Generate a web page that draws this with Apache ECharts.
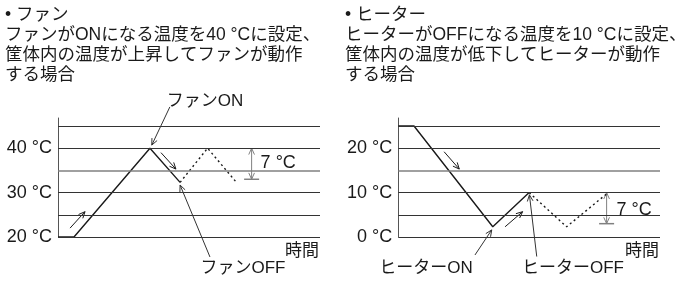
<!DOCTYPE html>
<html>
<head>
<meta charset="utf-8">
<script src="https://cdn.jsdelivr.net/npm/echarts@6/dist/echarts.min.js"></script>
<style>
html, body { margin: 0; padding: 0; background: #fff; }
#chart { width: 678px; height: 282px; }
</style>
</head>
<body>
<div id="chart"></div>
<script>
// ファン（左）: 時間(0-100) と 温度
const fanSolid = [[0, 20], [6.1, 20], [35.1, 40], [46.6, 32.3]]
const fanDotted = [[46.6, 32.3], [57.1, 40], [68.1, 32.3]]
const fanLines = [20, 25, 30, 35, 40, 45]
const fanLabels = [20, 30, 40]
const fanMid = 35
// ヒーター（右）
const heaterSolid = [[0, 25], [6, 25], [36.1, 2.3], [50, 10]]
const heaterDotted = [[50, 10], [64.3, 2.3], [80.2, 10]]
const heaterLines = [0, 5, 10, 15, 20, 25]
const heaterLabels = [0, 10, 20]
const heaterMid = 15
// ヒステリシス幅
const band = 7

const FONT = "'Liberation Sans', 'Noto Sans CJK JP', sans-serif"
const INK = '#1a1a1a'
const GRAY = '#808080'

const chart = echarts.init(document.getElementById('chart'), null, { renderer: 'canvas' })

function yAxisOf(g, min, labels) {
  return {
    type: 'value', gridIndex: g, min: min, max: min + 26.8, interval: 5,
    splitLine: { show: false },
    axisTick: { show: false },
    axisLine: { show: true, lineStyle: { color: '#555', width: 1 } },
    axisLabel: {
      margin: 6, fontSize: 18, color: INK, fontFamily: FONT,
      formatter: v => labels.indexOf(v) >= 0 ? v + ' °C' : ''
    }
  }
}

function gridLines(values, mid) {
  return values.map(v => ({
    yAxis: v,
    lineStyle: v === mid
      ? { color: GRAY, width: 1.6, type: 'solid' }
      : { color: '#333', width: 1, type: 'solid' }
  }))
}

function seriesOf(g, solid, dotted, lines, mid) {
  return [
    {
      type: 'line', xAxisIndex: g, yAxisIndex: g, data: solid,
      symbol: 'none', lineStyle: { color: INK, width: 1.4 }, z: 3,
      markLine: {
        silent: true, symbol: ['none', 'none'], label: { show: false },
        animation: false, data: gridLines(lines, mid)
      }
    },
    {
      type: 'line', xAxisIndex: g, yAxisIndex: g, data: dotted,
      symbol: 'none', lineStyle: { color: INK, width: 1.4, type: [2, 3] }, z: 3
    }
  ]
}

chart.setOption({
  animation: false,
  grid: [
    { left: 58, top: 118, width: 262, height: 119 },
    { left: 398.3, top: 118, width: 261.7, height: 119 }
  ],
  xAxis: [
    { type: 'value', gridIndex: 0, min: 0, max: 100, show: false },
    { type: 'value', gridIndex: 1, min: 0, max: 100, show: false }
  ],
  yAxis: [yAxisOf(0, 20, fanLabels), yAxisOf(1, 0, heaterLabels)],
  series: [
    ...seriesOf(0, fanSolid, fanDotted, fanLines, fanMid),
    ...seriesOf(1, heaterSolid, heaterDotted, heaterLines, heaterMid)
  ]
})

// 注釈（矢印と文字）
function px(g, p) { return chart.convertToPixel({ gridIndex: g }, p) }

function head(tip, from, color) {
  const a = Math.atan2(tip[1] - from[1], tip[0] - from[0])
  const L = 7, w = 0.42
  return {
    type: 'polyline', silent: true,
    shape: { points: [
      [tip[0] - L * Math.cos(a - w), tip[1] - L * Math.sin(a - w)], tip,
      [tip[0] - L * Math.cos(a + w), tip[1] - L * Math.sin(a + w)]
    ] },
    style: { stroke: color, fill: null, lineWidth: 1 }
  }
}

function arrow(a, b, color, both) {
  const out = [{
    type: 'line', silent: true,
    shape: { x1: a[0], y1: a[1], x2: b[0], y2: b[1] },
    style: { stroke: color, lineWidth: 1 }
  }, head(b, a, color)]
  if (both) out.push(head(a, b, color))
  return out
}

function text(s, x, y, align, extra) {
  return {
    type: 'text', x: x, y: y, silent: true,
    style: Object.assign({
      text: s, fontSize: 17, fontFamily: FONT, fill: INK,
      align: align || 'center', verticalAlign: 'middle'
    }, extra || {})
  }
}

function bandArrow(g, x, top, tickW) {
  const p0 = px(g, [x, top]), p1 = px(g, [x, top - band])
  return [
    ...arrow(p0, p1, GRAY, true),
    { type: 'line', silent: true,
      shape: { x1: p1[0] - tickW, y1: p1[1], x2: p1[0] + tickW, y2: p1[1] },
      style: { stroke: GRAY, lineWidth: 1.5 } }
  ]
}

const g = []
// 左
g.push(...arrow(px(0, [4.6, 22.0]), px(0, [10.3, 25.7]), INK))
g.push(...arrow(px(0, [39.3, 39.0]), px(0, [45.0, 35.3]), INK))
g.push(...arrow(px(0, [42.7, 49.3]), px(0, [35.8, 40.7]), '#333'))
g.push(...arrow(px(0, [58.0, 15.5]), px(0, [46.6, 31.7]), '#333'))
g.push(...bandArrow(0, 73.9, 40, 7.5))
const f7 = px(0, [73.9, 40 - band / 2])
g.push(text('7 °C', f7[0] + 8, f7[1] - 1, 'left',
  { fontSize: 18, backgroundColor: '#fff', padding: [0, 4, 0, 1] }))
// 右
g.push(...arrow(px(1, [17.5, 19.2]), px(1, [23.3, 15.3]), INK))
g.push(...arrow(px(1, [40.8, 2.3]), px(1, [47.5, 5.7]), INK))
g.push(...arrow(px(1, [29.3, -4.05]), px(1, [35.7, 1.6]), '#333'))
g.push(...arrow(px(1, [52.9, -4.4]), px(1, [50.1, 9.5]), '#333'))
g.push(...bandArrow(1, 79.6, 10, 7.5))
const h7 = px(1, [79.6, 10 - band / 2])
g.push(text('7 °C', h7[0] + 9, h7[1] + 2, 'left',
  { fontSize: 18, backgroundColor: '#fff', padding: [0, 4, 0, 1] }))

// 見出し
const head1 = '● ファン\nファンがONになる温度を40 °Cに設定、\n筐体内の温度が上昇してファンが動作\nする場合'
const head2 = '● ヒーター\nヒーターがOFFになる温度を10 °Cに設定、\n筐体内の温度が低下してヒーターが動作\nする場合'
g.push(text(head1.replace('●', '•'), 5, 5, 'left', { verticalAlign: 'top', lineHeight: 20, fontSize: 17.5 }))
g.push(text(head2.replace('●', '•'), 345, 5, 'left', { verticalAlign: 'top', lineHeight: 20, fontSize: 17.5 }))

g.push(text('ファンON', 205, 101))
g.push(text('ファンOFF', 243, 268))
g.push(text('時間', 319, 251.5, 'right'))
g.push(text('ヒーターON', 426, 268))
g.push(text('ヒーターOFF', 573, 268))
g.push(text('時間', 659, 251.5, 'right'))

chart.setOption({ graphic: g })
</script>
</body>
</html>
